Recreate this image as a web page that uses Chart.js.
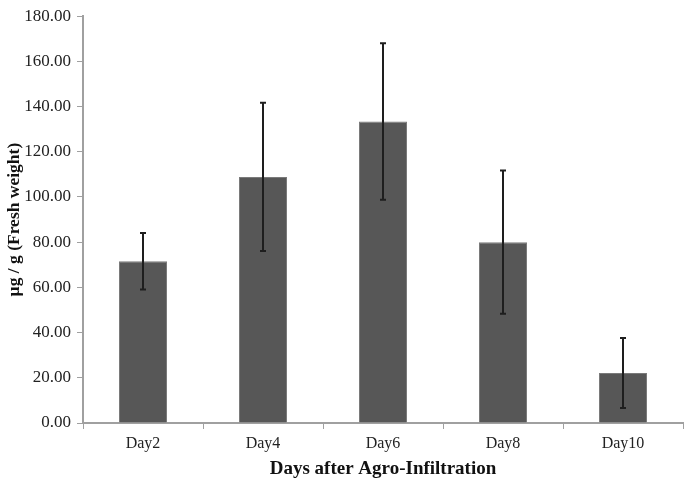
<!DOCTYPE html>
<html>
<head>
<meta charset="utf-8">
<script src="https://cdn.jsdelivr.net/npm/chart.js@4"></script>
<style>
html,body{margin:0;padding:0;background:#fff;}
#wrap{width:685px;height:480px;}
</style>
</head>
<body>
<div id="wrap"><canvas id="c" width="685" height="480"></canvas></div>
<script>
const categories = ["Day2", "Day4", "Day6", "Day8", "Day10"];
const meanValues = [71.6, 108.9, 133.4, 80.0, 22.1];
const errorValues = [12.5, 32.8, 34.6, 31.7, 15.5];
const yTicks = [0, 20, 40, 60, 80, 100, 120, 140, 160, 180];

const FONT = "'Liberation Serif', 'Times New Roman', serif";

const errorBarPlugin = {
  id: 'errorBars',
  afterDatasetsDraw(chart) {
    const ctx = chart.ctx;
    const meta = chart.getDatasetMeta(0);
    const y = chart.scales.y;
    ctx.save();
    ctx.strokeStyle = '#1e1e1e';
    ctx.lineWidth = 2;
    meta.data.forEach((bar, i) => {
      const x = bar.x;
      const top = y.getPixelForValue(meanValues[i] + errorValues[i]);
      const bot = y.getPixelForValue(meanValues[i] - errorValues[i]);
      ctx.beginPath();
      ctx.moveTo(x, top); ctx.lineTo(x, bot);
      ctx.moveTo(x - 3, top); ctx.lineTo(x + 3, top);
      ctx.moveTo(x - 3, bot); ctx.lineTo(x + 3, bot);
      ctx.stroke();
    });
    ctx.restore();
  }
};

new Chart(document.getElementById('c'), {
  type: 'bar',
  data: {
    labels: categories,
    datasets: [{
      data: meanValues,
      backgroundColor: '#575757',
      borderColor: '#7a7a7a',
      borderWidth: 1,
      barPercentage: 0.4,
      categoryPercentage: 1.0
    }]
  },
  options: {
    responsive: false,
    animation: false,
    layout: { padding: { top: 11, right: 2, left: 0, bottom: 0 } },
    plugins: { legend: { display: false }, tooltip: { enabled: false } },
    scales: {
      x: {
        grid: { display: true, drawOnChartArea: false, offset: true, color: '#a0a0a0', tickLength: 6, tickColor: '#a0a0a0' },
        border: { color: '#a0a0a0', width: 2 },
        ticks: { color: '#222', font: { family: FONT, size: 16 }, padding: 5 },
        title: { display: true, text: 'Days after Agro-Infiltration', color: '#111', font: { family: FONT, size: 19, weight: 'bold' }, padding: { top: 0, bottom: 0 } },
        afterFit(scale) { scale.height = 57; }
      },
      y: {
        min: 0, max: 180,
        afterBuildTicks(scale) { scale.ticks = yTicks.map(v => ({ value: v })); },
        grid: { display: true, drawOnChartArea: false, color: '#a0a0a0', tickLength: 6, tickColor: '#a0a0a0' },
        border: { color: '#a0a0a0', width: 2 },
        ticks: { color: '#222', font: { family: FONT, size: 17 }, padding: 6, callback: v => Number(v).toFixed(2) },
        title: { display: true, text: 'µg / g (Fresh weight)', color: '#111', font: { family: FONT, size: 17.5, weight: 'bold' }, padding: { top: 4, bottom: 2 } },
        afterFit(scale) { scale.width = 83; }
      }
    }
  },
  plugins: [errorBarPlugin]
});
</script>
</body>
</html>
